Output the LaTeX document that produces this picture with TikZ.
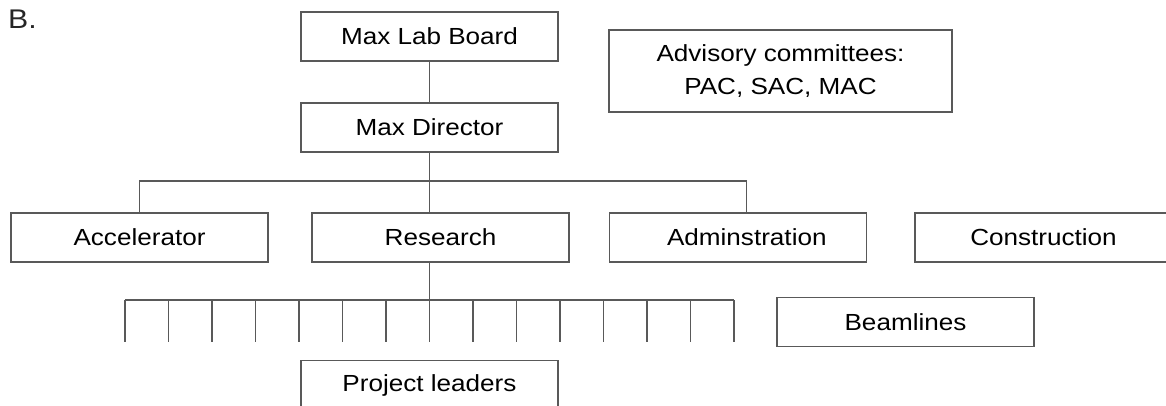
\documentclass[tikz,border=0pt]{standalone}
\usepackage{fontspec}
\setmainfont{Liberation Sans}[FakeStretch=1.12]
\begin{document}
\begin{tikzpicture}[x=1pt,y=-1pt,
  box/.style={draw=black!65,line width=1.2pt,minimum width=257pt,minimum height=49pt,
    inner sep=0pt,font=\fontsize{23.3}{28}\selectfont,text=black},
  wire/.style={draw=black!65,line width=1.2pt}]
\useasboundingbox (0,0) rectangle (1166,406);
\clip (0,0) rectangle (1166,406);

% panel label
\node[anchor=base west,inner sep=0pt,font=\fontsize{27}{30}\selectfont,text=black!85] (panel) at (8,28.5) {B.};

% top of the organisation
\node[box] (mlb) at (429.5,36.5) {Max Lab Board};
\node[box] (md) at (429.5,127.5) {Max Director};
\node[box,minimum width=343pt,minimum height=82pt,align=center,
  font=\fontsize{23.3}{32.6}\selectfont] (adv) at (780.5,71) {Advisory committees:\\PAC, SAC, MAC};

% divisions
\node[box] (acc) at (139.5,237.5) {Accelerator};
\node[box] (res) at (440.5,237.5) {Research};
\node[box] (adm) at (737.8,237.5) {\hspace*{18pt}Adminstration};
\node[box] (con) at (1043.5,237.5) {Construction};

% lower level
\node[box] (beam) at (905.5,322.2) {Beamlines};
\node[box] (pl) at (429.5,385.2) {Project leaders};

% connectors
\coordinate (bus) at (429.5,181);
\coordinate (admin-in) at ([xshift=9pt]adm.north);
\coordinate (comb) at (429.5,300);
\draw[wire] (mlb) -- (md);
\draw[wire] (md.south) -- (md.south |- res.north);
\draw[wire] (acc.north) |- (bus) -| (admin-in);
\draw[wire] (res.south -| md.south) -- (comb);
\draw[wire] ([xshift=-304.5pt]comb) -- ([xshift=304.5pt]comb);
\foreach \k in {0,...,14}
  \draw[wire] ([xshift=\k*43.5pt-304.5pt]comb) -- ++(0,42);
\end{tikzpicture}
\end{document}
